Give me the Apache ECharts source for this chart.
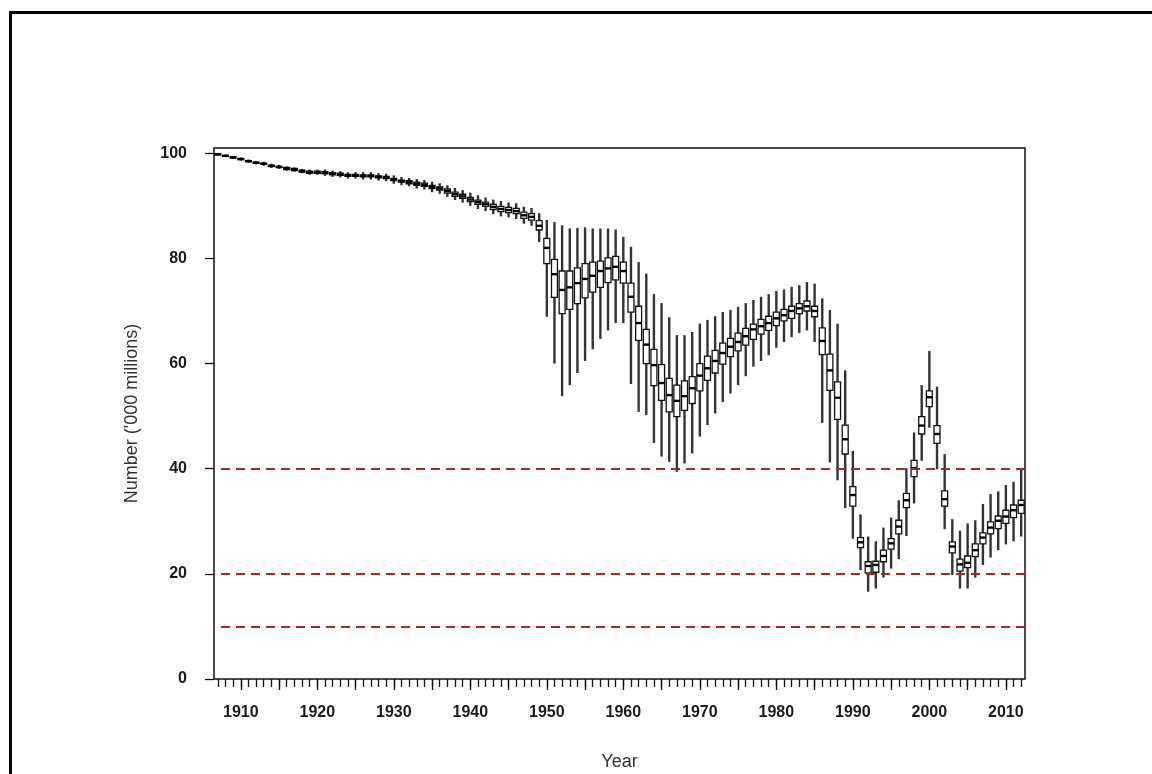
<!DOCTYPE html>
<html>
<head>
<meta charset="utf-8">
<script src="https://cdn.jsdelivr.net/npm/echarts@6/dist/echarts.min.js"></script>
<style>
html,body{margin:0;padding:0;background:#fff;}
#chart{width:1152px;height:774px;}
</style>
</head>
<body>
<div id="chart"></div>
<script>
// ---- Data ----
const firstYear = 1907, lastYear = 2012;
const years = [];
for (let y = firstYear; y <= lastYear; y++) years.push(String(y));

const yTicks = [0, 20, 40, 60, 80, 100];
const refLines = [40, 20, 10];

// lower whisker
const whiskerLow = [
 99.6,99.3,99.0,98.6,98.2,97.9,97.6,97.2,97.0,96.7,
 96.5,96.2,95.9,95.9,95.7,95.5,95.4,95.2,95.2,95.0,
 95.0,94.8,94.7,94.2,93.9,93.7,93.3,93.1,92.6,92.3,
 91.7,91.1,90.6,90.0,89.4,89.0,88.4,88.0,87.8,87.5,
 86.6,86.2,83.1,68.9,60.0,53.8,55.9,58.2,60.5,62.7,
 64.7,66.3,67.7,67.7,56.1,50.8,50.2,44.9,42.3,41.3,
 39.4,41.0,42.9,46.1,48.3,50.5,52.7,54.3,55.9,57.6,
 59.4,60.5,61.6,63.0,64.1,65.0,65.8,66.3,64.1,48.7,
 41.2,37.8,32.5,26.7,20.7,16.6,17.2,19.3,21.0,22.8,
 27.2,33.4,41.5,47.8,39.9,28.5,19.8,17.2,17.2,19.3,
 21.7,23.1,24.5,25.6,26.2,27.1
];
// first quartile
const q1 = [
 99.7,99.4,99.1,98.8,98.4,98.1,97.9,97.5,97.3,96.9,
 96.7,96.4,96.2,96.2,96.1,95.9,95.8,95.6,95.6,95.5,
 95.5,95.3,95.2,94.8,94.5,94.2,93.9,93.7,93.3,93.0,
 92.4,91.8,91.4,90.8,90.3,89.9,89.3,88.9,88.7,88.5,
 87.6,87.3,85.4,79.0,72.6,69.5,70.3,71.4,72.5,73.6,
 74.5,75.4,75.9,75.3,69.8,64.4,60.0,55.8,53.0,50.8,
 49.9,51.1,52.4,54.8,56.8,58.2,59.9,61.3,62.4,63.5,
 64.6,65.6,66.3,67.2,68.1,68.6,69.5,70.0,68.9,61.7,
 54.9,49.4,42.8,32.9,25.0,20.2,20.3,22.3,24.7,27.6,
 32.6,38.5,46.6,51.8,44.8,32.9,24.0,20.5,21.2,23.3,
 25.7,27.6,28.6,29.6,30.7,31.5
];
// median
const median = [
 99.8,99.5,99.2,98.9,98.5,98.2,98.0,97.6,97.4,97.1,
 96.9,96.6,96.4,96.4,96.3,96.1,96.0,95.8,95.8,95.7,
 95.7,95.5,95.4,95.0,94.7,94.5,94.2,94.0,93.6,93.3,
 92.8,92.2,91.8,91.2,90.7,90.3,89.8,89.4,89.2,89.0,
 88.2,87.9,86.2,82.0,77.0,74.0,74.5,75.3,76.1,76.7,
 77.6,78.1,78.4,77.6,72.7,67.7,63.6,59.7,56.3,54.0,
 52.9,53.8,55.3,57.7,59.1,60.5,62.0,63.2,64.1,65.2,
 66.5,67.1,67.7,68.6,69.2,70.0,70.5,70.9,70.0,64.3,
 58.7,53.5,45.6,35.0,26.0,21.5,21.7,23.4,25.8,29.0,
 34.0,40.1,48.2,53.6,46.6,34.2,25.2,21.8,22.1,24.5,
 26.9,28.8,30.1,30.9,32.1,33.1
];
// third quartile
const q3 = [
 99.9,99.6,99.3,99.0,98.6,98.3,98.1,97.7,97.5,97.3,
 97.1,96.8,96.6,96.6,96.5,96.3,96.2,96.0,96.0,95.9,
 95.9,95.7,95.6,95.2,94.9,94.8,94.5,94.3,93.9,93.6,
 93.2,92.6,92.2,91.6,91.1,90.7,90.3,89.9,89.7,89.5,
 88.8,88.5,87.2,83.8,79.8,77.6,77.6,78.2,79.0,79.3,
 79.5,80.1,80.4,79.3,75.3,70.9,66.5,62.7,59.8,57.2,
 55.9,56.7,57.5,60.0,61.4,62.5,63.9,64.8,65.8,66.7,
 67.5,68.4,69.0,69.8,70.3,70.9,71.4,71.9,70.9,66.8,
 61.8,56.5,48.3,36.6,26.9,22.3,22.4,24.5,26.7,30.2,
 35.3,41.6,49.9,54.8,48.2,35.8,26.1,22.8,23.4,25.7,
 27.8,29.9,31.0,32.1,33.1,34.0
];
// upper whisker
const whiskerHigh = [
 100.0,99.7,99.4,99.2,98.8,98.5,98.4,98.0,97.8,97.5,
 97.3,97.0,96.9,96.9,96.9,96.7,96.6,96.4,96.4,96.4,
 96.4,96.2,96.1,95.8,95.5,95.3,95.1,94.9,94.6,94.3,
 93.9,93.4,93.0,92.5,92.0,91.6,91.2,90.9,90.6,90.5,
 89.8,89.6,88.6,87.3,86.9,86.3,85.7,85.8,85.9,85.7,
 85.7,85.7,85.5,84.1,82.2,79.3,77.1,73.2,71.5,68.8,
 65.4,65.4,66.0,67.6,68.3,69.0,69.8,70.2,70.8,71.5,
 72.1,72.7,73.2,73.8,74.1,74.6,74.9,75.5,75.2,72.4,
 70.2,67.6,58.7,43.4,31.3,27.1,26.2,28.8,30.7,34.0,
 40.1,46.9,55.9,62.4,55.6,42.8,30.4,28.2,29.6,30.2,
 33.3,35.2,35.7,36.9,37.5,39.9
];

// ---- Build series data ----
const boxData = years.map((y, i) => [i, whiskerLow[i], q1[i], median[i], q3[i], whiskerHigh[i]]);

function renderBox(params, api) {
  const idx = api.value(0);
  const pLo = api.coord([idx, api.value(1)]);
  const pQ1 = api.coord([idx, api.value(2)]);
  const pMd = api.coord([idx, api.value(3)]);
  const pQ3 = api.coord([idx, api.value(4)]);
  const pHi = api.coord([idx, api.value(5)]);
  const bw = api.size([1, 0])[0] * 0.78;
  const cx = pMd[0];
  return {
    type: 'group',
    children: [
      { type: 'line', shape: { x1: cx, y1: pLo[1], x2: cx, y2: pHi[1] },
        style: { stroke: '#333', lineWidth: 2.4 } },
      { type: 'rect', shape: { x: cx - bw / 2, y: pQ3[1], width: bw, height: pQ1[1] - pQ3[1] },
        style: { fill: '#ffffff', stroke: '#111', lineWidth: 1.3 } },
      { type: 'line', shape: { x1: cx - bw / 2, y1: pMd[1], x2: cx + bw / 2, y2: pMd[1] },
        style: { stroke: '#000', lineWidth: 2.4 } }
    ]
  };
}

const chart = echarts.init(document.getElementById('chart'), null, { renderer: 'canvas' });
const labelFont = { fontFamily: 'Liberation Sans, Arial, sans-serif', fontSize: 16, fontWeight: 'bold', color: '#1a1a1a' };
const titleFont = { fontFamily: 'Liberation Sans, Arial, sans-serif', fontSize: 18, color: '#333' };

chart.setOption({
  animation: false,
  backgroundColor: '#ffffff',
  grid: {
    left: 214, right: 127, top: 148, bottom: 95,
    outerBoundsMode: 'none', containLabel: false,
    show: true, borderColor: '#111', borderWidth: 1.5, backgroundColor: 'transparent'
  },
  xAxis: [
    {
      type: 'category', data: years, boundaryGap: true, position: 'bottom',
      axisLine: { show: false },
      axisTick: { show: true, alignWithLabel: true, interval: 0, length: 8, lineStyle: { color: '#111', width: 1.3 } },
      axisLabel: {
        ...labelFont, margin: 26,
        interval: (i, v) => Number(v) % 10 === 0
      },
      splitLine: { show: false },
      name: 'Year', nameLocation: 'middle', nameGap: 74,
      nameTextStyle: titleFont
    },
    {
      type: 'category', data: years, boundaryGap: true, position: 'bottom',
      axisLine: { show: false },
      axisTick: { show: true, alignWithLabel: true, interval: (i, v) => Number(v) % 5 === 0, length: 11, lineStyle: { color: '#111', width: 1.3 } },
      axisLabel: { show: false },
      splitLine: { show: false }
    },
    {
      type: 'value', min: 0, max: 1, show: false
    }
  ],
  yAxis: {
    type: 'value', min: 0, max: 101,
    axisLine: { show: false },
    axisTick: { show: true, customValues: yTicks, length: 9, lineStyle: { color: '#111', width: 1.3 } },
    axisLabel: { ...labelFont, customValues: yTicks, margin: 27 },
    splitLine: { show: false },
    name: "Number ('000 millions)", nameLocation: 'middle', nameGap: 73, nameRotate: 90,
    nameTextStyle: titleFont
  },
  graphic: [
    { type: 'line', shape: { x1: 9, y1: 12.5, x2: 1152, y2: 12.5 }, style: { stroke: '#000', lineWidth: 3 } },
    { type: 'line', shape: { x1: 10.5, y1: 11, x2: 10.5, y2: 774 }, style: { stroke: '#000', lineWidth: 3 } }
  ],
  series: [
    {
      type: 'line',
      xAxisIndex: 2, yAxisIndex: 0,
      data: [],
      silent: true,
      z: 1,
      markLine: {
        silent: true, symbol: 'none',
        label: { show: false },
        lineStyle: { color: '#a82828', type: [9, 6], dashOffset: 8, width: 1.8 },
        data: refLines.map(v => ({ yAxis: v }))
      }
    },
    {
      type: 'custom',
      xAxisIndex: 0, yAxisIndex: 0,
      renderItem: renderBox,
      encode: { x: 0, y: [1, 2, 3, 4, 5] },
      data: boxData,
      z: 3
    }
  ]
});
</script>
</body>
</html>
